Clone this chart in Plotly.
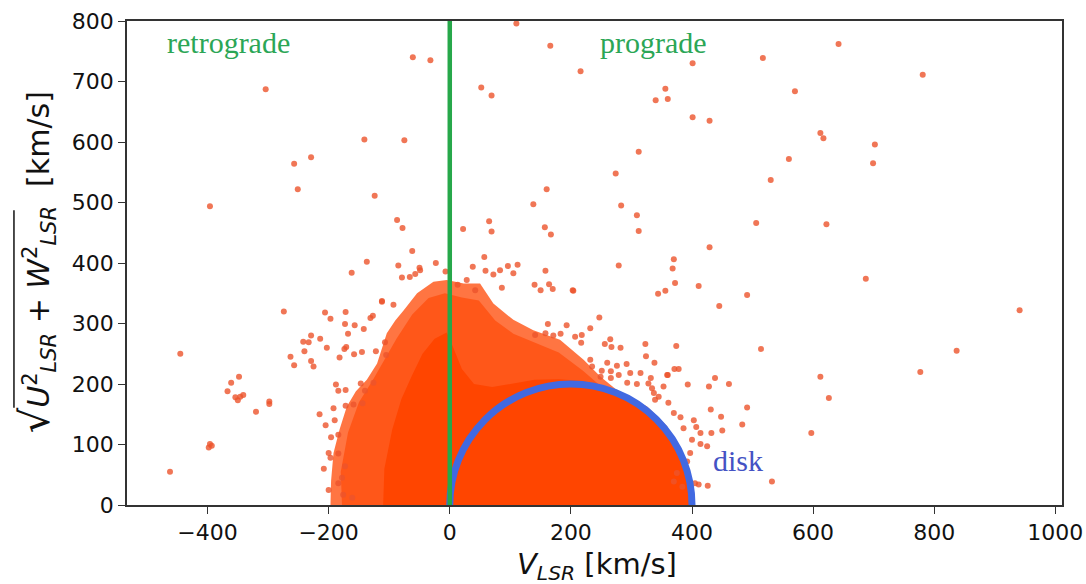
import plotly.graph_objects as go

# ---------------- data ----------------
v_ticks = [-400, -200, 0, 200, 400, 600, 800, 1000]
uw_ticks = [0, 100, 200, 300, 400, 500, 600, 700, 800]

# outer envelope of the speckled part of the star cloud
halo_v = [-197, -196, -192, -182, -170, -155, -137, -120, -104, -90, -76, -54, -27, -5, 23,
          50, 72, 105, 138, 182, 221, 249, 282, 326, 359, 375, 386, 393]
halo_uw = [0, 40, 86, 125, 163, 188, 207, 234, 284, 305, 322, 350, 369, 372, 366,
           366, 333, 306, 289, 273, 240, 212, 185, 163, 130, 86, 31, 0]

# envelope of the denser inner part of the cloud
mid_v = [-178, -180, -168, -150, -128, -108, -88, -62, -35, -8, 20, 48, 75, 105, 140, 180,
         220, 250, 285, 320, 350, 368, 380, 386]
mid_uw = [0, 55, 120, 170, 205, 240, 275, 315, 342, 350, 343, 338, 305, 283, 268, 252,
          222, 196, 170, 148, 118, 80, 35, 0]

# envelope of the saturated (solid) core of the cloud
core_v = [-110, -108, -95, -80, -62, -45, -25, -5, 5, 20, 40, 70, 100, 140, 180, 220,
          260, 300, 340, 370, 390, 400]
core_uw = [0, 60, 125, 175, 215, 250, 275, 285, 262, 225, 200, 195, 200, 207, 208, 205,
           193, 178, 142, 104, 62, 0]

# individual stars outside the dense cloud
star_v = [-304, -396, -257, -251, -462, -445, -398, -396, -393, -361, -348, -367, -354, -350,
          -346, -341, -320, -298, -298, -274, -263, -257,
          -61, -32, 110, 166, 216, 52, 69, 356, 340, 360,
          -141, -75, -229, -124, -87, -78, -62, -137, -162, -85,
          312, 274, 160, 138, 283, 309, 312, 65, 69, 22, 157, 167, 57, -23, -50, 38, 96, 112,
          158, 279, 370, 368, 372, 344, 356, 204, 140, 164, 170, 72,
          642, 517, 401, 781, 570, 401, 429, 612, 617, 702, 699, 560, 530, 506, 622, 429, 411,
          491, 687,
          941, 837, 777, 612, 626, 597, 532, 445, 514, 491, 483, 461, 438, 428, 431, 448, 450,
          432, 374, 371, 378, 393, 353, 414, 414, 426, 405, 384, 403, 407, 361, 360,
          -112, -206, -197, -172, -173, -157, -142, -131, -127, -168, -229, -242, -233, -214,
          -203, -240, -171, -174, -229, -225, -182, -158, -145, -122, -107, -105, -188, -184,
          -172, -147, -140, -126, -172, -159, -144, -196, -184, -200, -197, -184, -173, -178,
          -176, -161, -184,
          -79, -66, -57, -112, -93, 59, 150, 86, 28, 13, 42,
          203, 247, 232, 193, 162, 141, 158, 171, 183, 207, 218, 217, 265, 256, 267, 282, 323,
          324, 338, 232, 235, 260, 276, 292, 251, 266, 249, 266, 279, 298, 315, 332, 359, 328,
          293, 309, 337, 345,
          334, 339, 370, 381, 386, 400, 397, 392, 375, 370, 411,
          -7, -49, 83, 425, 392, -215, -205, -190, -208, -200, -192, 105]
star_uw = [687, 494, 564, 522, 55, 250, 95, 101, 98, 202, 212, 188, 178, 173,
           179, 182, 154, 171, 167, 320, 245, 231,
           740, 735, 796, 759, 717, 690, 677, 688, 669, 671,
           604, 603, 575, 511, 471, 458, 420, 402, 384, 396,
           584, 548, 522, 497, 495, 479, 453, 469, 452, 456, 459, 447, 410, 400, 392, 394, 395, 397,
           387, 396, 406, 391, 367, 349, 354, 354, 364, 365, 357, 381,
           762, 739, 730, 711, 684, 641, 635, 615, 606, 596, 565, 572, 537, 466, 464, 426, 362,
           347, 374,
           322, 255, 220, 212, 177, 119, 39, 329, 258, 161, 133, 200, 210, 196, 158, 146, 123,
           119, 263, 225, 225, 199, 196, 119, 101, 32, 36, 30, 140, 129, 169, 215,
           337, 318, 308, 319, 299, 297, 291, 309, 313, 283, 280, 270, 269, 275,
           260, 254, 261, 258, 238, 229, 244, 249, 253, 254, 269, 248, 199, 189,
           190, 201, 189, 202, 164, 166, 168, 112, 116, 86, 78, 85, 64, 45,
           17, 12, 36,
           376, 377, 382, 336, 331, 387, 355, 359, 372, 364, 355,
           355, 310, 292, 297, 299, 281, 284, 280, 283, 278, 281, 268, 274, 266, 261, 260, 266,
           246, 235, 240, 229, 235, 230, 233, 222, 221, 212, 210, 215, 218, 218, 210, 215, 201,
           202, 200, 185, 179,
           193, 174, 152, 145, 127, 108, 86, 72, 53, 39, 34,
           386, 388, 388, 97, 53, 150, 132, 140, 60, 25, 160, 383]

# disk region: half circle centred on V = 200 km/s with radius 200 km/s
disk_center = 200
disk_radius = 200

# ---------------- figure ----------------
fig = go.Figure()
no_line = dict(width=0, color="rgba(0,0,0,0)")

fig.add_trace(go.Scatter(x=halo_v, y=halo_uw, mode="lines", fill="tozeroy",
                         fillcolor="rgba(255,69,0,0.74)", line=no_line, hoverinfo="skip"))
fig.add_trace(go.Scatter(x=mid_v, y=mid_uw, mode="lines", fill="tozeroy",
                         fillcolor="rgba(255,69,0,0.62)", line=no_line, hoverinfo="skip"))
fig.add_trace(go.Scatter(x=core_v, y=core_uw, mode="lines", fill="tozeroy",
                         fillcolor="#ff4500", line=no_line, hoverinfo="skip"))
fig.add_trace(go.Scatter(x=star_v, y=star_uw, mode="markers",
                         marker=dict(size=6, color="rgba(236,84,44,0.8)", line=dict(width=0))))

# disk boundary (half circle) and prograde/retrograde divider
fig.add_shape(type="circle", xref="x", yref="y",
              x0=disk_center - disk_radius, x1=disk_center + disk_radius,
              y0=-disk_radius, y1=disk_radius,
              line=dict(color="#4169e1", width=7))
fig.add_shape(type="line", xref="x", yref="y", x0=0, x1=0, y0=0, y1=800,
              line=dict(color="#27a84a", width=4.5))

serif = "Liberation Serif, Times New Roman, serif"
fig.add_annotation(x=-470, y=765, xref="x", yref="y", text="retrograde", showarrow=False,
                   xanchor="left", yanchor="middle",
                   font=dict(family=serif, size=30, color="#2ba656"))
fig.add_annotation(x=244, y=765, xref="x", yref="y", text="prograde", showarrow=False,
                   xanchor="left", yanchor="middle",
                   font=dict(family=serif, size=30, color="#2ba656"))
fig.add_annotation(x=432, y=74, xref="x", yref="y", text="disk", showarrow=False,
                   xanchor="left", yanchor="middle",
                   font=dict(family=serif, size=30, color="#4452c4"))

sans = "DejaVu Sans, sans-serif"
fig.add_annotation(x=0.503, y=-0.125, xref="paper", yref="paper",
                   text="<i>V</i><sub><i>LSR</i></sub> [km/s]", showarrow=False,
                   xanchor="center", yanchor="middle",
                   font=dict(family=sans, size=29, color="#111"))
fig.add_annotation(x=-0.097, y=0.502, xref="paper", yref="paper", textangle=-90,
                   text=("<span style='font-size:40px'>√</span><i>U</i><sup>2</sup><sub><i>LSR</i></sub>"
                         " + <i>W</i><sup>2</sup><sub><i>LSR</i></sub>  [km/s]"),
                   showarrow=False, xanchor="center", yanchor="middle",
                   font=dict(family=sans, size=30, color="#111"))
# vinculum of the square-root sign
fig.add_shape(type="line", xref="paper", yref="paper",
              x0=-0.1209, x1=-0.1209, y0=0.201, y1=0.609,
              line=dict(color="#111", width=1.5))

axis_common = dict(showgrid=False, zeroline=False, showline=True, mirror=True,
                   linecolor="#333", linewidth=1.5, ticks="outside", ticklen=7,
                   tickwidth=1.3, tickcolor="#333", automargin=False,
                   tickfont=dict(family=sans, size=22, color="#111"))

fig.update_layout(
    width=1086, height=584,
    margin=dict(l=127, r=24, t=21, b=79),
    paper_bgcolor="white", plot_bgcolor="white",
    showlegend=False,
    xaxis=dict(range=[-533, 1011], tickvals=v_ticks,
               ticktext=[str(t).replace("-", "\u2212") for t in v_ticks], **axis_common),
    yaxis=dict(range=[0, 800], tickvals=uw_ticks, **axis_common),
)

fig.write_html("out.html", config={"displayModeBar": False},
               post_script="document.body.style.margin='0px';document.body.style.overflow='hidden';")
